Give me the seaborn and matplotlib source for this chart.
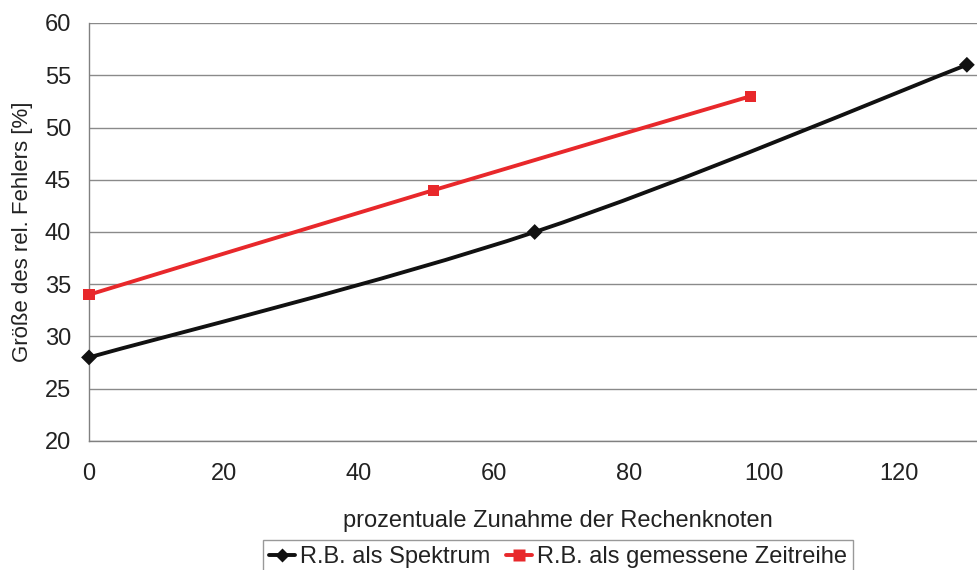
import numpy as np
import pandas as pd
import seaborn as sns
import matplotlib
matplotlib.use("Agg")
import matplotlib.pyplot as plt
from matplotlib.path import Path
from matplotlib.patches import PathPatch
from matplotlib.lines import Line2D

# Data
spektrum_x = [0, 66, 130]
spektrum_y = [28, 40, 56]
zeitreihe_x = [0, 51, 98]
zeitreihe_y = [34, 44, 53]
series_names = ["R.B. als Spektrum", "R.B. als gemessene Zeitreihe"]
series_colors = ["#111111", "#E8282B"]
series_markers = ["D", "s"]
x_ticks = [0, 20, 40, 60, 80, 100, 120]
y_ticks = [20, 25, 30, 35, 40, 45, 50, 55, 60]

df = pd.DataFrame({
    "x": spektrum_x + zeitreihe_x,
    "y": spektrum_y + zeitreihe_y,
    "series": [series_names[0]] * len(spektrum_x) + [series_names[1]] * len(zeitreihe_x),
})

sns.set_theme(style="white")
plt.rcParams["font.family"] = ["Liberation Sans", "DejaVu Sans"]

FS = 17
TXT = "#222222"

fig = plt.figure(figsize=(9.77, 5.70), dpi=100)
W, H = 977, 570
ax = fig.add_axes([89 / W, 1 - 441 / H, 888 / W, 418 / H])


def smooth_path(xs, ys):
    """Cubic Bezier path through the points (Catmull-Rom style smoothing)."""
    pts = np.column_stack([xs, ys]).astype(float)
    n = len(pts)
    verts = [tuple(pts[0])]
    codes = [Path.MOVETO]
    for i in range(n - 1):
        p_prev = pts[max(i - 1, 0)]
        p0 = pts[i]
        p1 = pts[i + 1]
        p_next = pts[min(i + 2, n - 1)]
        c1 = p0 + (p1 - p_prev) / 6.0
        c2 = p1 - (p_next - p0) / 6.0
        verts += [tuple(c1), tuple(c2), tuple(p1)]
        codes += [Path.CURVE4] * 3
    return Path(verts, codes)


# Markers via seaborn
sns.scatterplot(data=df, x="x", y="y", hue="series", style="series",
                palette=dict(zip(series_names, series_colors)),
                markers=dict(zip(series_names, series_markers)),
                s=[65], edgecolor="none", legend=False, ax=ax, zorder=4,
                clip_on=False)

# Smoothed connecting lines in data coordinates
for (xs, ys), col in zip([(spektrum_x, spektrum_y), (zeitreihe_x, zeitreihe_y)], series_colors):
    ax.add_patch(PathPatch(smooth_path(xs, ys), facecolor="none", edgecolor=col,
                           lw=2.8, zorder=3, capstyle="round"))

ax.set_xlim(0, 131.5)
ax.set_ylim(20, 60)
ax.set_xticks(x_ticks)
ax.set_yticks(y_ticks)
ax.tick_params(axis="both", labelsize=FS, colors=TXT, length=5, width=1,
               direction="out", pad=8)
ax.tick_params(axis="x", pad=11)
for t in ax.get_xticklines() + ax.get_yticklines():
    t.set_color("#808080")

ax.grid(axis="y", color="#8a8a8a", lw=1)
ax.set_axisbelow(True)
for side in ["top", "right"]:
    ax.spines[side].set_visible(False)
for side in ["left", "bottom"]:
    ax.spines[side].set_color("#808080")
    ax.spines[side].set_linewidth(1)

ax.set_xlabel("prozentuale Zunahme der Rechenknoten", fontsize=FS, color=TXT)
ax.xaxis.set_label_coords((558 - 89) / 888, (441 - 510) / 418)
ax.set_ylabel("Größe des rel. Fehlers [%]", fontsize=16, color=TXT)
ax.yaxis.set_label_coords((33 - 89) / 888, 0.5)

handles = [Line2D([0], [0], color=c, lw=2.8, marker=m, markersize=7 if m == "D" else 8,
                  markeredgecolor="none")
           for c, m in zip(series_colors, series_markers)]
leg = fig.legend(handles, series_names, loc="upper left",
                 bbox_to_anchor=(263 / W, 1 - 540 / H), ncol=2, fontsize=FS,
                 frameon=True, fancybox=False, handlelength=1.1, handletextpad=0.2,
                 columnspacing=0.7, borderpad=0.25, borderaxespad=0)
leg.get_frame().set_edgecolor("#808080")
leg.get_frame().set_linewidth(1)
for t in leg.get_texts():
    t.set_color(TXT)

fig.savefig("out.png", dpi=100)
